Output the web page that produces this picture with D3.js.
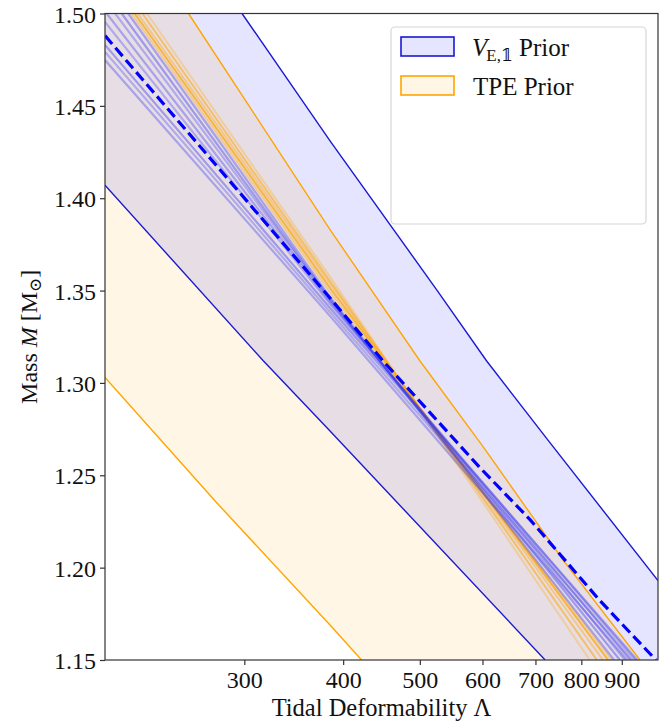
<!DOCTYPE html>
<html>
<head>
<meta charset="utf-8">
<script src="https://cdn.jsdelivr.net/npm/d3@7"></script>
<style>
  html, body { margin: 0; padding: 0; background: #fff; }
  svg { display: block; }
</style>
</head>
<body>
<svg id="chart" width="660" height="725"></svg>
<script>
// Tidal deformability (log) vs mass; each curve is a list of [Lambda, M] pairs.
const xTicks = [300, 400, 500, 600, 700, 800, 900];
const yTicks = [1.15, 1.20, 1.25, 1.30, 1.35, 1.40, 1.45, 1.50];

// V_E,1 prior band edges
const veUpper = [[298, 1.500], [385, 1.431], [526, 1.350], [607, 1.312], [726, 1.269], [1000, 1.193]];
const veLower = [[200, 1.407], [317, 1.312], [385, 1.274], [720, 1.150]];
// TPE prior band edges
const tpeUpper = [[255, 1.500], [385, 1.383], [500, 1.312], [601, 1.2655], [759, 1.204], [949, 1.150]];
const tpeLower = [[200, 1.303], [277, 1.235], [385, 1.169], [422, 1.150]];
// V_E,1 central relation (dashed)
const veCentral = [[200, 1.488], [385, 1.346], [449, 1.312], [596, 1.254], [689, 1.226], [845, 1.182], [994, 1.150]];

// individual sample relations
const veSamples = [
  [[201, 1.500], [385, 1.3438], [922, 1.150]],
  [[206, 1.500], [385, 1.3449], [908, 1.150]],
  [[210, 1.500], [385, 1.3454], [895, 1.150]],
  [[214, 1.500], [385, 1.3465], [880, 1.150]],
  [[200, 1.4954], [385, 1.3427], [935, 1.150]],
  [[200, 1.4830], [385, 1.3406], [941, 1.150]],
  [[200, 1.4792], [385, 1.3384], [927, 1.150]],
  [[200, 1.4748], [385, 1.3362], [914, 1.150]]
];
const veSampleAlpha = [0.35, 0.3, 0.4, 0.35, 0.3, 0.4, 0.3, 0.35];
const tpeSamples = [
  [[216, 1.500], [385, 1.3492], [874, 1.150]],
  [[218, 1.500], [385, 1.3514], [865, 1.150]],
  [[220, 1.500], [385, 1.3536], [852, 1.150]],
  [[223, 1.500], [385, 1.3552], [837, 1.150]],
  [[226, 1.500], [385, 1.3574], [820, 1.150]]
];
const tpeSampleAlpha = [0.35, 0.75, 0.4, 0.55, 0.3];

const legendLabels = ["Prior", "TPE Prior"];

const svg = d3.select("#chart");
const mLeft = 105, mRight = 658, mTop = 13.5, mBottom = 660;
const FONT = '"Liberation Serif", "DejaVu Serif", serif';

const x = d3.scaleLog().domain([200, 1000]).range([mLeft, mRight]);
const y = d3.scaleLinear().domain([1.15, 1.50]).range([mBottom, mTop]);

svg.append("defs").append("clipPath").attr("id", "plotclip")
  .append("rect").attr("x", mLeft).attr("y", mTop)
  .attr("width", mRight - mLeft).attr("height", mBottom - mTop);

const plot = svg.append("g").attr("clip-path", "url(#plotclip)");
const line = d3.line().x(d => x(d[0])).y(d => y(d[1]));

const [xMin, xMax] = x.domain();
const [yMin, yMax] = y.domain();

// band fills
const veBand = veUpper.concat([[xMax, yMin]], veLower.slice().reverse(), [[xMin, yMax]]);
const tpeBand = tpeUpper.concat(tpeLower.slice().reverse(), [[xMin, yMax]]);
plot.append("path").attr("d", line(veBand) + "Z")
  .attr("fill", "#0000ff").attr("fill-opacity", 0.1).attr("stroke", "none");
plot.append("path").attr("d", line(tpeBand) + "Z")
  .attr("fill", "#ffa500").attr("fill-opacity", 0.1).attr("stroke", "none");

// sample curves
tpeSamples.forEach((s, i) => {
  plot.append("path").attr("d", line(s)).attr("fill", "none")
    .attr("stroke", "#ffa500").attr("stroke-opacity", tpeSampleAlpha[i]).attr("stroke-width", 2);
});
veSamples.forEach((s, i) => {
  plot.append("path").attr("d", line(s)).attr("fill", "none")
    .attr("stroke", "#3333ee").attr("stroke-opacity", veSampleAlpha[i]).attr("stroke-width", 2.2);
});

// band edges
[veUpper, veLower].forEach(c => plot.append("path").attr("d", line(c)).attr("fill", "none")
  .attr("stroke", "#1a1ad2").attr("stroke-width", 1.4));
[tpeUpper, tpeLower].forEach(c => plot.append("path").attr("d", line(c)).attr("fill", "none")
  .attr("stroke", "#ffa500").attr("stroke-width", 1.4));

// central dashed relation
plot.append("path").attr("d", line(veCentral)).attr("fill", "none")
  .attr("stroke", "#0000ff").attr("stroke-width", 3.2).attr("stroke-dasharray", "11,5");

// frame
svg.append("rect").attr("x", mLeft).attr("y", mTop)
  .attr("width", mRight - mLeft).attr("height", mBottom - mTop)
  .attr("fill", "none").attr("stroke", "#333").attr("stroke-width", 1.2);

// axes
const xAxis = svg.append("g").attr("transform", `translate(0,${mBottom})`)
  .call(d3.axisBottom(x).tickValues(xTicks).tickFormat(d3.format("d")).tickSize(5).tickPadding(6));
const yAxis = svg.append("g").attr("transform", `translate(${mLeft},0)`)
  .call(d3.axisLeft(y).tickValues(yTicks).tickFormat(d3.format(".2f")).tickSize(5).tickPadding(4));
[xAxis, yAxis].forEach(a => {
  a.select(".domain").remove();
  a.selectAll(".tick line").attr("stroke", "#333").attr("stroke-width", 1.2);
  a.selectAll(".tick text").attr("font-size", 24).attr("font-family", FONT).attr("fill", "#111");
});
yAxis.selectAll(".tick text").attr("dy", "0.36em");

// axis titles
svg.append("text").attr("x", (mLeft + mRight) / 2).attr("y", 716)
  .attr("text-anchor", "middle").attr("font-family", FONT).attr("font-size", 24.5).attr("fill", "#111")
  .text("Tidal Deformability Λ");

const yl = svg.append("text")
  .attr("transform", `translate(37,${(mTop + mBottom) / 2}) rotate(-90)`)
  .attr("text-anchor", "middle").attr("font-family", FONT).attr("font-size", 24).attr("fill", "#111");
yl.append("tspan").text("Mass ");
yl.append("tspan").attr("font-style", "italic").text("M");
yl.append("tspan").text(" [M");
yl.append("tspan").attr("font-size", 17).attr("dy", 4).text("⊙");
yl.append("tspan").attr("dy", -4).text("]");

// legend
const lg = svg.append("g");
lg.append("rect").attr("x", 391).attr("y", 27).attr("width", 255).attr("height", 197)
  .attr("rx", 4).attr("fill", "#fff").attr("fill-opacity", 0.85)
  .attr("stroke", "#d6d6d6").attr("stroke-width", 1.2);
const patches = [
  { fill: "#0000ff", stroke: "#1a1ad2", y: 37 },
  { fill: "#ffa500", stroke: "#ffa500", y: 76 }
];
patches.forEach(p => {
  lg.append("rect").attr("x", 401).attr("y", p.y).attr("width", 53).attr("height", 19)
    .attr("fill", "#fff").attr("stroke", "none");
  lg.append("rect").attr("x", 401).attr("y", p.y).attr("width", 53).attr("height", 19)
    .attr("fill", p.fill).attr("fill-opacity", 0.1).attr("stroke", p.stroke).attr("stroke-width", 1.6);
});
const t1 = lg.append("text").attr("x", 472).attr("y", 56)
  .attr("font-family", FONT).attr("font-size", 25).attr("fill", "#111");
t1.append("tspan").attr("font-style", "italic").text("V");
t1.append("tspan").attr("font-size", 17).attr("dy", 5).attr("dx", -1).text("E,𝟙");
t1.append("tspan").attr("dy", -5).text(" " + legendLabels[0]);
lg.append("text").attr("x", 473).attr("y", 95)
  .attr("font-family", FONT).attr("font-size", 25).attr("fill", "#111")
  .text(legendLabels[1]);
</script>
</body>
</html>
